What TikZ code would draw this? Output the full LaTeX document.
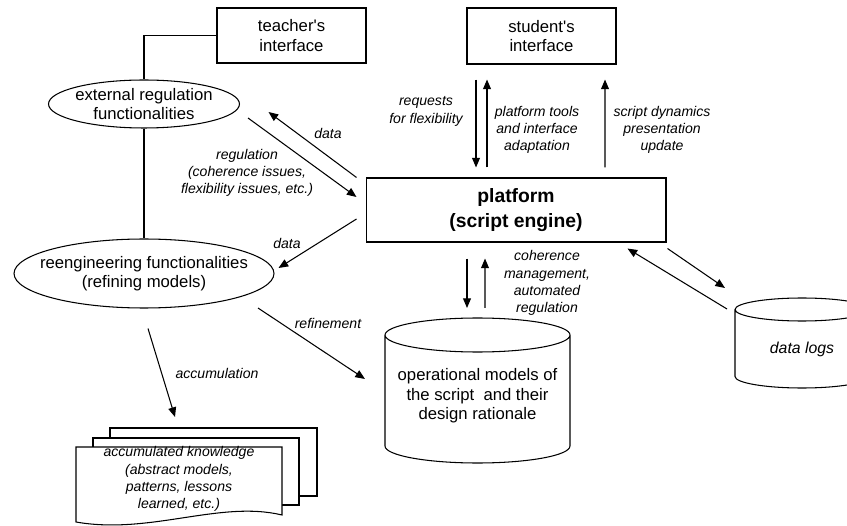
\documentclass[tikz,border=0pt]{standalone}
\usepackage{fontspec}
\setmainfont{Liberation Sans}
\usetikzlibrary{arrows.meta,calc,shapes.geometric}

\begin{document}
\begin{tikzpicture}[x=0.02cm,y=-0.02cm,line width=0.6pt,font=\fontsize{9.5}{11}\selectfont]
\tikzstyle {box}=[rectangle, draw=black, align=center]
\tikzstyle {ell}=[ellipse, draw=black, align=center, inner xsep=-9pt, inner ysep=-3pt]
\tikzstyle {lbl}=[align=center, font=\fontsize{8}{9.8}\selectfont\itshape]
\tikzstyle {arr}=[-{Triangle[length=5.5pt,width=4.5pt]}]
\tikzstyle {opsr}=[x radius=1.85cm, y radius=0.34cm]
\tikzstyle {logr}=[x radius=1.34cm, y radius=0.23cm]
\useasboundingbox (0,0) rectangle (847,526);
\clip (0,0) rectangle (847,526);
\node (tch) [box, minimum width=2.98cm, minimum height=1.1cm] at (291.5,35.5) {teacher\textquotesingle s\\interface};
\node (stu) [box, minimum width=2.98cm, minimum height=1.12cm] at (541.5,36) {student\textquotesingle s\\interface};
\node (ext) [ell, minimum width=3.82cm, minimum height=0.96cm] at (144,104) {external regulation\\functionalities};
\node (reeng) [ell, minimum width=5.2cm, minimum height=1.38cm] at (144,273.5) {reengineering functionalities\\(refining models)};
\node (plat) [box, minimum width=6cm, minimum height=1.28cm, font=\fontsize{11}{14}\selectfont\bfseries] at (516,210) {platform\\(script engine)};
\draw (385,335) -- (385,446) arc[opsr, start angle=180, end angle=360] -- (570,335)
  arc[opsr, start angle=0, end angle=180] arc[opsr, start angle=180, end angle=360];
\coordinate (opstop) at (477.5,318);
\node (ops) [align=center] at (477.5,396) {operational models of\\the script~ and their\\design rationale};
\draw (735,309.5) -- (735,376.5) arc[logr, start angle=180, end angle=360] -- (869,309.5)
  arc[logr, start angle=0, end angle=180] arc[logr, start angle=180, end angle=360];
\coordinate (logstop) at (802,298);
\node (logs) [font=\fontsize{9}{11}\selectfont\itshape] at (802,349) {data logs};
\draw[fill=white] (110,428) rectangle (317,496);
\draw[fill=white] (93,438) rectangle (299,505);
\draw[fill=white] (76,447) -- (282,447) -- (282,515) .. controls (220,500) and (150,535) .. (76,522) -- cycle;
\node (know) [lbl] at (179,479) {accumulated knowledge\\(abstract models,\\patterns, lessons\\learned, etc.)};
\draw (tch.west) -| (ext.north);
\draw (ext.south) -- (reeng.north);
\draw[arr] ($(plat.north west)+(-9,0)$) -- ($(ext.east)+(28.5,8)$);
\draw[arr] ($(ext.east)+(8,14)$) -- ($(plat.west)+(-9,-13)$);
\draw[arr] ($(plat.west)+(-9,9)$) -- ($(reeng.east)+(4,-5.5)$);
\draw[arr] ($(stu.south)+(-65.5,15)$) -- ($(plat.north)+(-40,-10)$);
\draw[arr] ($(plat.north)+(-29,-10)$) -- ($(stu.south)+(-54.5,15)$);
\draw[arr] ($(plat.north)+(89,-10)$) -- ($(stu.south)+(63.5,15)$);
\draw[arr] ($(plat.south)+(-49,16)$) -- ($(opstop)+(-10.5,-10)$);
\draw[arr] ($(opstop)+(7.5,-10)$) -- ($(plat.south)+(-31,16)$);
\draw[arr] ($(logstop)+(-75,11)$) -- ($(plat.south east)+(-39,6)$);
\draw[arr] ($(plat.south east)+(1,6)$) -- ($(logstop)+(-77,-10)$);
\draw[arr] ($(reeng.center)+(114,34.5)$) -- ($(opstop)+(-112.5,61)$);
\draw[arr] ($(reeng.south)+(4,20)$) -- ($(know)+(-4,-62)$);
\node (ldata1) [lbl] at (328,133) {data};
\node (lreg) [lbl] at (247,173) {regulation\\(coherence issues,\\flexibility issues, etc.)};
\node (ldata2) [lbl] at (287,243) {data};
\node (lreq) [lbl] at (426,111.5) {requests\\for flexibility};
\node (ltools) [lbl] at (537,130) {platform tools\\and interface\\adaptation};
\node (ldyn) [lbl] at (662,130) {script dynamics\\presentation\\update};
\node (lcoh) [lbl] at (547,283) {coherence\\management,\\automated\\regulation};
\node (lref) [lbl] at (328,323) {refinement};
\node (lacc) [lbl] at (217,373) {accumulation};
\end{tikzpicture}
\end{document}
